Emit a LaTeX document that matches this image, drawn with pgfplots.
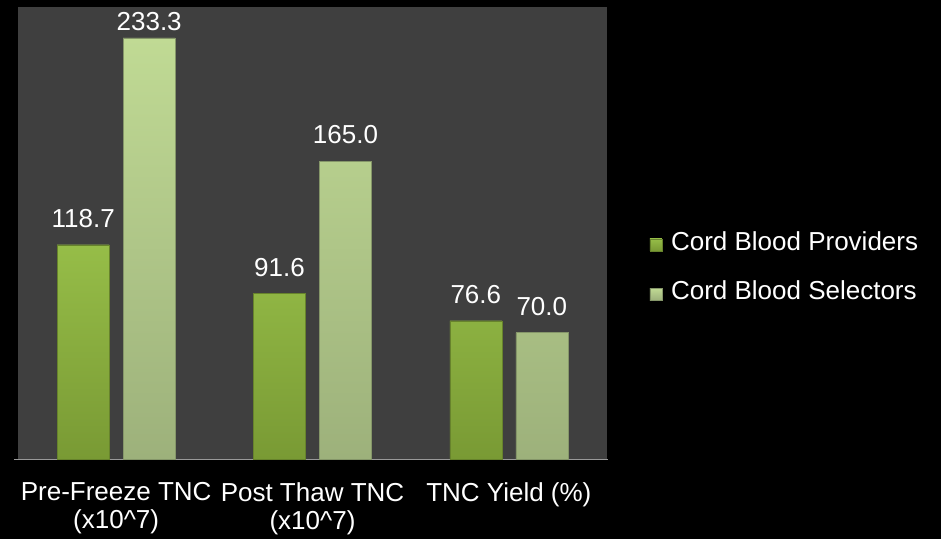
\documentclass[border=0pt]{standalone}
\usepackage{pgfplots}
\pgfplotsset{compat=1.18}
\usepackage{fontspec}
\setmainfont{Liberation Sans}
\definecolor{bgarea}{HTML}{3F3F3F}
\definecolor{provtop}{HTML}{96BD48}
\definecolor{provbot}{HTML}{799A34}
\definecolor{seltop}{HTML}{C0DA94}
\definecolor{selbot}{HTML}{9DB17B}
\newcommand{\bigfont}{\fontsize{26}{28}\selectfont}
\begin{document}
\begin{tikzpicture}
\useasboundingbox (0,0) rectangle (941pt,539pt);
\fill[black] (0,0) rectangle (941pt,539pt);
\begin{axis}[
  at={(18pt,80pt)}, anchor=south west,
  scale only axis, width=589pt, height=452pt,
  xmin=-0.5, xmax=2.5, ymin=0, ymax=250.4,
  axis background/.style={fill=bgarea},
  axis line style={draw=none},
  ytick=\empty,
  xtick={0,1,2},
  xticklabels={{Pre-Freeze TNC\\(x10\^{}7)},{Post Thaw TNC\\(x10\^{}7)},{TNC Yield (\%)}},
  major tick length=0pt,
  xticklabel style={align=center, font=\bigfont, text=white, anchor=north, inner sep=0pt, yshift=-23pt},
  bar width=52pt,
  ybar,
  nodes near coords,
  nodes near coords style={font=\bigfont, text=white, anchor=south, inner sep=0pt, yshift=17pt, /pgf/number format/.cd, fixed, fixed zerofill, precision=1, assume math mode=true},
  clip=false,
  legend style={draw=none, fill=none, at={(1.072,0.426)}, anchor=west, font=\bigfont, text=white, inner sep=0pt, row sep=25pt, column sep=7pt},
  legend cell align=left,
  legend image code/.code={\fill[#1] (0pt,-9pt) rectangle (12pt,3pt);},
]
\draw[gray!80] (rel axis cs:-0.006,0) -- (rel axis cs:1.002,0);
\addplot[draw=provbot!85!black, top color=provtop, bottom color=provbot, bar shift=-33pt]
  coordinates {(0,118.7) (1,91.6) (2,76.6)};
\addlegendentry{Cord Blood Providers}
\addplot[draw=selbot!85!black, top color=seltop, bottom color=selbot, bar shift=33pt,
  coordinate style/.condition={\coordindex==0}{yshift=-10pt}]
  coordinates {(0,233.3) (1,165.0) (2,70.0)};
\addlegendentry{Cord Blood Selectors}
\end{axis}
\end{tikzpicture}
\end{document}
